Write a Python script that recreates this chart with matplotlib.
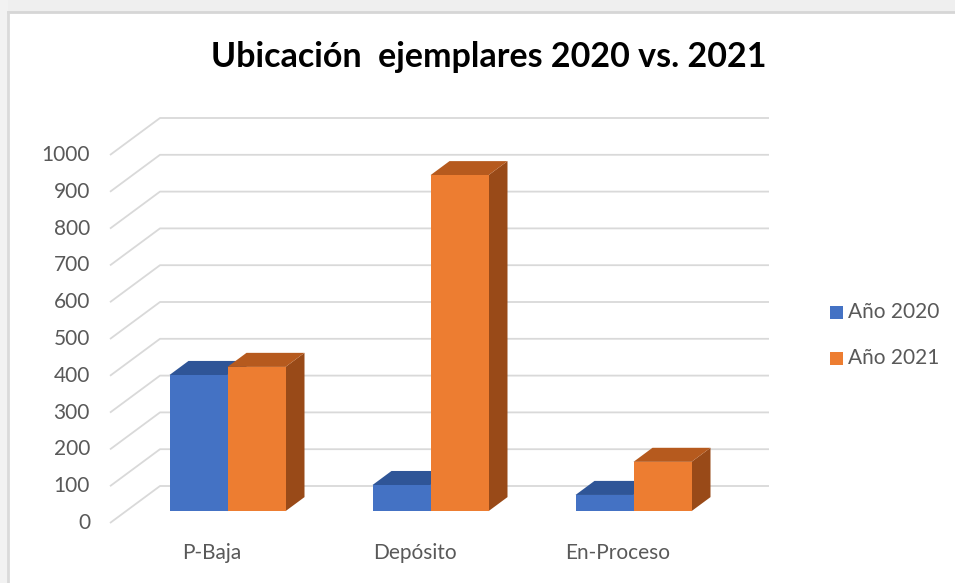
import matplotlib
matplotlib.use('Agg')
from matplotlib import pyplot as plt
from matplotlib.patches import Polygon, Rectangle

# data
categories = ['P-Baja', 'Depósito', 'En-Proceso']
series_names = ['Año 2020', 'Año 2021']
values_2020 = [370, 71, 44]
values_2021 = [392, 913, 134]
y_ticks = [0, 100, 200, 300, 400, 500, 600, 700, 800, 900, 1000]

# colours: front, top, side
blue = ('#4472C4', '#2F5597', '#2B4C87')
orange = ('#ED7D31', '#B65A1E', '#994A18')
grid_col = '#D9D9D9'
text_col = '#595959'

W, H = 955, 583
fig = plt.figure(figsize=(W / 100, H / 100), dpi=100)
fig.patch.set_facecolor('white')

# grey frame round the chart area
fig.patches.append(Rectangle((0, 1 - 12 / H), 1, 12 / H, transform=fig.transFigure,
                             facecolor='#EFEFEF', edgecolor='none', zorder=0))
fig.patches.append(Rectangle((0, 0), 8 / W, 1, transform=fig.transFigure,
                             facecolor='#F2F2F2', edgecolor='none', zorder=0))
fig.lines.append(plt.Line2D([8 / W, 1], [1 - 12 / H, 1 - 12 / H], transform=fig.transFigure,
                            color='#D6D6D6', lw=2))
fig.lines.append(plt.Line2D([8 / W, 8 / W], [0, 1 - 12 / H], transform=fig.transFigure,
                            color='#DADADA', lw=2))

# front plane of the plot
left, right = 110, 719
bottom, top = 523, 155
ax = fig.add_axes([left / W, 1 - bottom / H, (right - left) / W, (bottom - top) / H])
ax.set_xlim(-0.5, len(categories) - 0.5)
ax.set_ylim(0, 1000)
ax.axis('off')

# depth of the floor in data units (50 px right, 37 px up)
px_x = (len(categories)) / (right - left)
px_y = 1000 / (bottom - top)
DX = 50 * px_x
DY = 37 * px_y

# gridlines: slanted on the side wall, flat on the back wall
x0 = -0.5
x1 = len(categories) - 0.5
for v in y_ticks:
    ax.plot([x0, x0 + DX, x1 + DX], [v, v + DY, v + DY], color=grid_col, lw=1.3,
            clip_on=False, zorder=1, solid_capstyle='butt')
    ax.text(x0 - 20 * px_x, v, str(v), ha='right', va='center', fontsize=15,
            color=text_col, family='Lato')

for i, c in enumerate(categories):
    ax.text(i, -30 * px_y, c, ha='center', va='center', fontsize=15,
            color=text_col, family='Lato')

# 3d columns
bar_w = 58 / (right - left) * len(categories)
d0, d1 = 0.32, 0.70


def column(xl, val, cols, z):
    front, topc, side = cols
    xr = xl + bar_w
    ox0, oy0 = d0 * DX, d0 * DY
    ox1, oy1 = d1 * DX, d1 * DY
    # front face
    ax.add_patch(Polygon([(xl + ox0, oy0), (xr + ox0, oy0), (xr + ox0, val + oy0), (xl + ox0, val + oy0)],
                         closed=True, facecolor=front, edgecolor='none', clip_on=False, zorder=z + 0.2))
    # top face
    ax.add_patch(Polygon([(xl + ox0, val + oy0), (xr + ox0, val + oy0), (xr + ox1, val + oy1), (xl + ox1, val + oy1)],
                         closed=True, facecolor=topc, edgecolor='none', clip_on=False, zorder=z + 0.1))
    # right side face
    ax.add_patch(Polygon([(xr + ox0, oy0), (xr + ox1, oy1), (xr + ox1, val + oy1), (xr + ox0, val + oy0)],
                         closed=True, facecolor=side, edgecolor='none', clip_on=False, zorder=z))


for i in range(len(categories)):
    column(i - bar_w, values_2020[i], blue, 2)
    column(i, values_2021[i], orange, 3)

# title
fig.text(489 / W, 1 - 57 / H, 'Ubicación  ejemplares 2020 vs. 2021', ha='center', va='center',
         fontsize=24.5, fontweight='bold', family='Lato', color='black')

# legend
for k, (name, cols) in enumerate(zip(series_names, [blue, orange])):
    yc = 312 + 46 * k
    fig.patches.append(Rectangle((830 / W, 1 - (yc + 6.5) / H), 13 / W, 13 / H,
                                 transform=fig.transFigure, facecolor=cols[0], edgecolor='none'))
    fig.text(848 / W, 1 - yc / H, name, ha='left', va='center', fontsize=15,
             color=text_col, family='Lato')

fig.savefig('out.png', dpi=100)
